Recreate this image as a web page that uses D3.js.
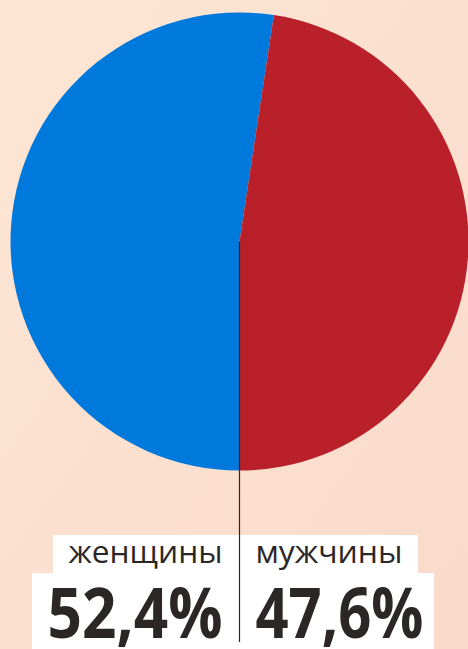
<!DOCTYPE html>
<html>
<head>
<meta charset="utf-8">
<script src="https://cdn.jsdelivr.net/npm/d3@7"></script>
<style>
  html, body { margin: 0; padding: 0; overflow: hidden; }
  svg { display: block; }
</style>
</head>
<body>
<div id="chart"></div>
<script>
// data
var labels = ["женщины", "мужчины"];
var values = [52.4, 47.6];
var valueLabels = ["52,4%", "47,6%"];
var colours = ["#0079dc", "#b9202a"];

var width = 468, height = 649;
var cx = 239.5, cy = 241.5, radius = 229;

var svg = d3.select("#chart").append("svg")
    .attr("width", width)
    .attr("height", height);

var grad = svg.append("defs").append("linearGradient")
    .attr("id", "bg")
    .attr("x1", "0").attr("y1", "0")
    .attr("x2", "1").attr("y2", "1");
grad.append("stop").attr("offset", "0").attr("stop-color", "#fee6d4");
grad.append("stop").attr("offset", "1").attr("stop-color", "#f9dacb");

svg.append("rect")
    .attr("width", width)
    .attr("height", height)
    .attr("fill", "url(#bg)");

var colour = d3.scaleOrdinal().domain(labels).range(colours);

var pie = d3.pie().value(function (d) { return d.value; })
    .sort(null)
    .startAngle(Math.PI)
    .endAngle(3 * Math.PI);
var arc = d3.arc().innerRadius(0).outerRadius(radius);

var data = labels.map(function (l, i) { return { label: l, value: values[i], text: valueLabels[i] }; });

var g = svg.append("g").attr("transform", "translate(" + cx + "," + cy + ")");
g.selectAll("path")
    .data(pie(data))
    .enter()
    .append("path")
    .attr("d", arc)
    .attr("fill", function (d) { return colour(d.data.label); });

// white label boxes
svg.append("rect")
    .attr("x", 53).attr("y", 535)
    .attr("width", 365).attr("height", 40)
    .attr("fill", "#ffffff");
svg.append("rect")
    .attr("x", 32).attr("y", 573)
    .attr("width", 402).attr("height", 76)
    .attr("fill", "#ffffff");

// divider line
svg.append("line")
    .attr("x1", cx).attr("x2", cx)
    .attr("y1", cy).attr("y2", 642)
    .attr("stroke", "#2b2727")
    .attr("stroke-width", 1.2);

var sideX = [cx - 17, cx + 16];
var anchors = ["end", "start"];

svg.selectAll(".name")
    .data(data)
    .enter()
    .append("text")
    .attr("class", "name")
    .attr("x", function (d, i) { return sideX[i]; })
    .attr("y", 563)
    .attr("text-anchor", function (d, i) { return anchors[i]; })
    .style("font-family", "'Open Sans', sans-serif")
    .style("font-size", "31px")
    .style("fill", "#2b2727")
    .attr("textLength", function (d, i) { return [154, 147][i]; })
    .attr("lengthAdjust", "spacingAndGlyphs")
    .text(function (d) { return d.label; });

svg.selectAll(".value")
    .data(data)
    .enter()
    .append("text")
    .attr("class", "value")
    .attr("x", function (d, i) { return sideX[i]; })
    .attr("y", 638)
    .attr("text-anchor", function (d, i) { return anchors[i]; })
    .style("font-family", "'Open Sans', sans-serif")
    .style("font-weight", "bold")
    .style("font-size", "70px")
    .style("fill", "#2b2727")
    .attr("textLength", function (d, i) { return [175, 168][i]; })
    .attr("lengthAdjust", "spacingAndGlyphs")
    .text(function (d) { return d.text; });
</script>
</body>
</html>
